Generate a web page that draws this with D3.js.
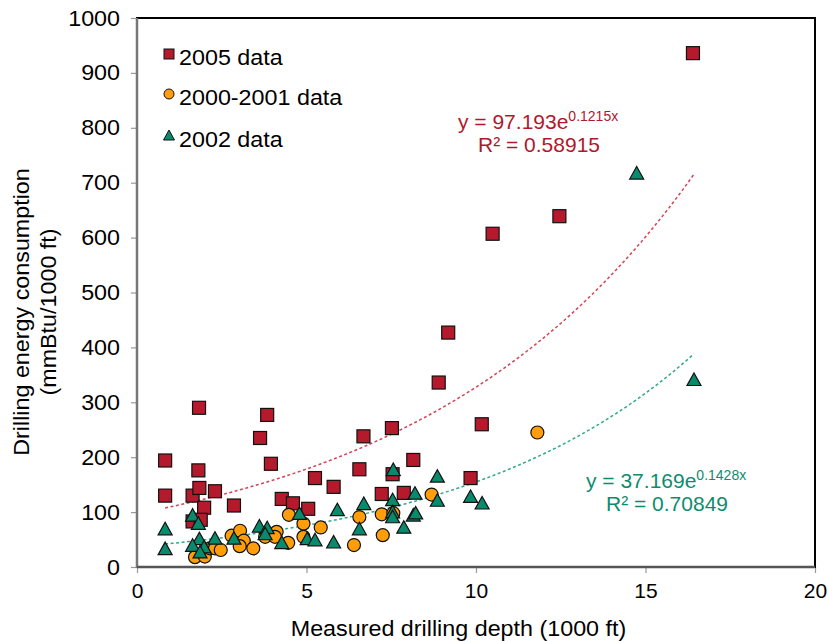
<!DOCTYPE html>
<html>
<head>
<meta charset="utf-8">
<script src="https://cdn.jsdelivr.net/npm/d3@7"></script>
<style>
  html, body { margin: 0; padding: 0; background: #fff; }
  svg { display: block; font-family: "Liberation Sans", Arial, Helvetica, sans-serif; }
</style>
</head>
<body>
<svg id="chart" width="828" height="641"></svg>
<script>
// ---- Data ----
const series2005 = [
  [0.83,194],[0.83,130],[1.83,290],[3.84,277],[3.63,235],[1.81,176],[3.95,188],
  [1.64,130],[1.84,144],[2.30,138],[1.98,108],[1.64,83],[1.88,86],[2.86,112],
  [4.27,124],[4.60,116],[5.05,106],[5.25,162],[5.80,146],[6.56,178],[6.68,238],
  [7.52,253],[7.54,169],[7.22,133],[7.87,135],[8.15,195],[8.90,336],[9.18,427],
  [9.84,162],[10.17,260],[10.49,607],[12.46,639],[16.40,936]
];
const series2000 = [
  [1.71,18],[2.00,19],[2.15,34],[2.30,34],[2.47,31],[2.79,57],[3.04,66],[3.15,48],
  [3.03,38],[3.43,34],[3.78,55],[4.12,64],[4.07,55],[4.46,44],[4.48,95],[4.91,79],
  [4.91,55],[5.42,72],[6.40,40],[6.56,91],[7.22,96],[7.56,98],[7.25,58],[8.69,132],
  [11.81,245]
];
const series2002 = [
  [0.83,70],[0.83,34],[1.64,95],[1.81,80],[1.84,52],[1.64,40],[1.98,37],[1.86,28],
  [2.30,53],[2.86,53],[3.61,75],[3.84,72],[3.78,61],[4.27,45],[4.79,98],[5.02,52],
  [5.25,50],[5.80,46],[5.91,105],[6.56,70],[6.69,116],[7.56,178],[8.86,166],
  [7.54,123],[8.20,135],[8.86,122],[7.54,101],[7.54,92],[8.15,95],[8.22,99],
  [7.87,73],[9.84,129],[10.18,117],[14.74,718],[16.43,342]
];
const xTicks = [0, 5, 10, 15, 20];
const yTicks = [0, 100, 200, 300, 400, 500, 600, 700, 800, 900, 1000];
const legendLabels = ["2005 data", "2000-2001 data", "2002 data"];
const fitRed = { a: 97.193, b: 0.1215, r2: "0.58915", coef: "97.193", exp: "0.1215x" };
const fitGreen = { a: 37.169, b: 0.1428, r2: "0.70849", coef: "37.169", exp: "0.1428x" };
const fitRange = [0.83, 16.43];

// ---- Colours ----
const cRed = "#B41A2C", cOrange = "#FF9E0A", cGreen = "#0A8A6C";
const cRedText = "#B0182C", cGreenText = "#0E8C6E";
const cRedLine = "#D24556", cGreenLine = "#2FA98B";
const SX = 1.06; // horizontal glyph stretch seen in the reference

const svg = d3.select("#chart");
const L = 137, R = 815, T = 18, B = 567;
const x = d3.scaleLinear().domain([0, 20]).range([L, R]);
const y = d3.scaleLinear().domain([0, 1000]).range([B, T]);

function stext(parent, px, py, str, size, anchor, fill) {
  const g = parent.append("g").attr("transform", `translate(${px},${py}) scale(${SX},1)`);
  return g.append("text").attr("x", 0).attr("y", 0).attr("text-anchor", anchor || "start")
    .attr("font-size", size).attr("fill", fill || "#000").text(str);
}

// Axes
const xAxis = d3.axisBottom(x).tickValues(xTicks).tickSize(6).tickPadding(10).tickFormat(d3.format("d"));
const yAxis = d3.axisLeft(y).tickValues(yTicks).tickSize(6).tickPadding(10).tickFormat(d3.format("d"));

const gx = svg.append("g").attr("transform", `translate(0,${B})`).call(xAxis);
gx.select(".domain").remove();
gx.selectAll(".tick line").attr("stroke", "#999").attr("stroke-width", 1.2);
gx.selectAll(".tick text").attr("font-size", 21).attr("fill", "#000")
  .attr("font-family", "Liberation Sans, Arial, sans-serif");

const gy = svg.append("g").attr("transform", `translate(${L},0)`).call(yAxis);
gy.select(".domain").remove();
gy.selectAll(".tick line").attr("stroke", "#999").attr("stroke-width", 1.2);
gy.selectAll(".tick text").attr("font-size", 22).attr("fill", "#000")
  .attr("transform", `scale(${SX},1)`)
  .attr("font-family", "Liberation Sans, Arial, sans-serif");

// Frame
svg.append("rect").attr("x", L).attr("y", T).attr("width", R - L).attr("height", B - T)
  .attr("fill", "none").attr("stroke", "#000").attr("stroke-width", 2);
svg.append("line").attr("x1", L).attr("x2", L).attr("y1", T).attr("y2", B + 1)
  .attr("stroke", "#777").attr("stroke-width", 2.5);
svg.append("line").attr("x1", L).attr("x2", R).attr("y1", B).attr("y2", B)
  .attr("stroke", "#555").attr("stroke-width", 2.5);

// Axis titles
stext(svg, 458.5, 636, "Measured drilling depth (1000 ft)", 22, "middle");
const yt = svg.append("g").attr("transform", "translate(0,312) rotate(-90)");
stext(yt, 0, 29, "Drilling energy consumption", 22, "middle");
stext(yt, 0, 56, "(mmBtu/1000 ft)", 22, "middle");

// Trend lines
function fitLine(fit, color) {
  const xs = d3.range(fitRange[0], fitRange[1] + 0.0001, 0.1);
  const line = d3.line().x(d => x(d)).y(d => y(fit.a * Math.exp(fit.b * d)));
  svg.append("path").datum(xs).attr("d", line).attr("fill", "none")
    .attr("stroke", color).attr("stroke-width", 1.5).attr("stroke-dasharray", "3,2.5");
}
fitLine(fitRed, cRedLine);
fitLine(fitGreen, cGreenLine);

// Markers
const sq = 13, cr = 6.5;
function triPath(cx, cy, w, h) {
  return `M${cx - w / 2},${cy + h / 2}L${cx + w / 2},${cy + h / 2}L${cx},${cy - h / 2}Z`;
}
svg.append("g").selectAll("rect").data(series2005).join("rect")
  .attr("x", d => x(d[0]) - sq / 2).attr("y", d => y(d[1]) - sq / 2)
  .attr("width", sq).attr("height", sq)
  .attr("fill", cRed).attr("stroke", "#111").attr("stroke-width", 1.2);
svg.append("g").selectAll("circle").data(series2000).join("circle")
  .attr("cx", d => x(d[0])).attr("cy", d => y(d[1])).attr("r", cr)
  .attr("fill", cOrange).attr("stroke", "#111").attr("stroke-width", 1.2);
svg.append("g").selectAll("path").data(series2002).join("path")
  .attr("d", d => triPath(x(d[0]), y(d[1]), 14, 12.5))
  .attr("fill", cGreen).attr("stroke", "#111").attr("stroke-width", 1.2);

// Legend
const lg = svg.append("g");
const legendY = [54, 94, 135];
const textBase = [65, 105, 146.5];
lg.append("rect").attr("x", 169 - 5).attr("y", legendY[0] - 5).attr("width", 10).attr("height", 10)
  .attr("fill", cRed).attr("stroke", "#111").attr("stroke-width", 1);
lg.append("circle").attr("cx", 169).attr("cy", legendY[1]).attr("r", 5)
  .attr("fill", cOrange).attr("stroke", "#111").attr("stroke-width", 1);
lg.append("path").attr("d", triPath(169, legendY[2], 11, 10))
  .attr("fill", cGreen).attr("stroke", "#111").attr("stroke-width", 1);
legendLabels.forEach((t, i) => {
  stext(lg, 179, textBase[i], t, 22, "start");
});

// Equation labels
function eqLabel(fit, color, x0, yb, xr, yb2) {
  const t = svg.append("text").attr("x", x0).attr("y", yb).attr("fill", color).attr("font-size", 21);
  t.append("tspan").text(`y = ${fit.coef}e`);
  t.append("tspan").attr("font-size", 14).attr("dy", -8).text(fit.exp);
  svg.append("text").attr("x", xr).attr("y", yb2).attr("fill", color).attr("font-size", 21)
    .text(`R² = ${fit.r2}`);
}
eqLabel(fitRed, cRedText, 458, 129, 478, 152);
eqLabel(fitGreen, cGreenText, 586, 488, 606, 511);
</script>
</body>
</html>
